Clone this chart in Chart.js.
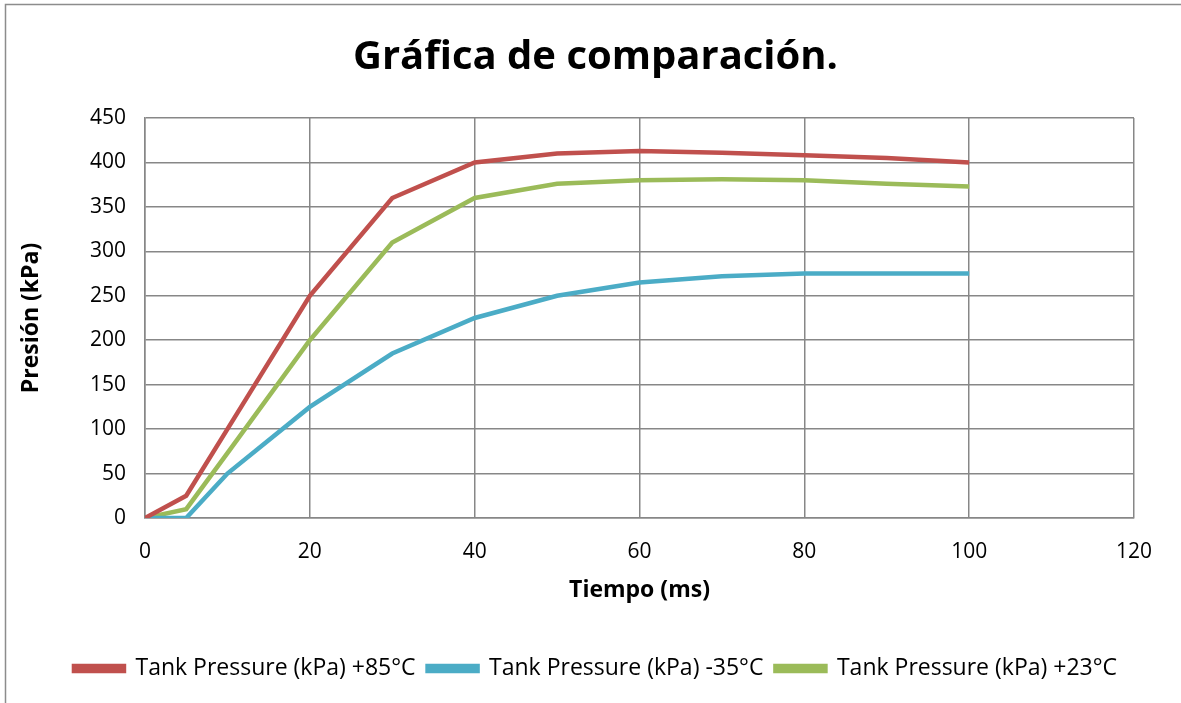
<!DOCTYPE html>
<html>
<head>
<meta charset="utf-8">
<script src="https://cdn.jsdelivr.net/npm/chart.js@4.4.1/dist/chart.umd.min.js"></script>
<style>
  html, body { margin: 0; padding: 0; background: #ffffff; }
  #wrap { width: 1181px; height: 703px; position: relative; }
</style>
</head>
<body>
<div id="wrap"><canvas id="c" width="1181" height="703"></canvas></div>
<script>
const timeMs = [0, 5, 10, 20, 30, 40, 50, 60, 70, 80, 90, 100];
const pressure85 = [0, 25, 100, 250, 360, 400, 410, 413, 411, 408, 405, 400];
const pressureMinus35 = [0, 0, 50, 125, 185, 225, 250, 265, 272, 275, 275, 275];
const pressure23 = [0, 10, 73, 200, 310, 360, 376, 380, 381, 380, 376, 373];
const seriesNames = ['Tank Pressure (kPa) +85°C', 'Tank Pressure (kPa) -35°C', 'Tank Pressure (kPa) +23°C'];
const chartTitle = 'Gráfica de comparación.';
const xTitle = 'Tiempo (ms)';
const yTitle = 'Presión (kPa)';

const FONT = "'Open Sans', 'DejaVu Sans', sans-serif";
const GRID = '#878787';

function pts(ys) { return timeMs.map((x, i) => ({ x: x, y: ys[i] })); }

const outerBorder = {
  id: 'outerBorder',
  beforeDraw(chart) {
    const ctx = chart.ctx;
    ctx.save();
    ctx.fillStyle = '#ffffff';
    ctx.fillRect(0, 0, chart.width, chart.height);
    ctx.strokeStyle = '#8c8c8c';
    ctx.lineWidth = 1.5;
    ctx.beginPath();
    ctx.moveTo(5.5, chart.height);
    ctx.lineTo(5.5, 4.5);
    ctx.lineTo(chart.width, 4.5);
    ctx.stroke();
    ctx.restore();
  }
};

const colors = ['#C0504D', '#4BACC6', '#9BBB59'];
const seriesData = [pressure85, pressureMinus35, pressure23];

new Chart(document.getElementById('c'), {
  type: 'line',
  data: {
    datasets: seriesData.map((d, i) => ({
      label: seriesNames[i],
      data: pts(d),
      borderColor: colors[i],
      backgroundColor: colors[i],
      borderWidth: 4.5,
      pointRadius: 0,
      tension: 0,
      fill: false
    }))
  },
  options: {
    responsive: false,
    animation: false,
    devicePixelRatio: 1,
    layout: { padding: { left: 15, right: 5, top: 0, bottom: 13 } },
    plugins: {
      title: {
        display: true,
        text: chartTitle,
        color: '#000000',
        font: { family: FONT, size: 40, weight: 'bold' },
        padding: { top: 34, bottom: 36 }
      },
      legend: {
        position: 'bottom',
        labels: {
          color: '#000000',
          font: { family: FONT, size: 23 },
          boxWidth: 50,
          boxHeight: 5,
          padding: 12
        }
      },
      tooltip: { enabled: false }
    },
    scales: {
      x: {
        type: 'linear',
        min: 0, max: 120,
        ticks: { stepSize: 20, color: '#000000', font: { family: FONT, size: 21 }, padding: 21, maxRotation: 0 },
        grid: { color: GRID, lineWidth: 1.5, drawTicks: false },
        border: { color: GRID, width: 1.5 },
        title: { display: true, text: xTitle, color: '#000000', font: { family: FONT, size: 23, weight: 'bold' }, padding: { top: 6, bottom: 41 } },
        afterFit(scale) { scale.height = 127; }
      },
      y: {
        min: 0, max: 450,
        ticks: { stepSize: 50, color: '#000000', font: { family: FONT, size: 21 }, padding: 19 },
        grid: { color: GRID, lineWidth: 1.5, drawTicks: false },
        border: { color: GRID, width: 1.5 },
        title: { display: true, text: yTitle, color: '#000000', font: { family: FONT, size: 23, weight: 'bold' }, padding: { top: 3, bottom: 0 } },
        afterFit(scale) { scale.width = 130; }
      },
      spacer: {
        type: 'linear',
        position: 'right',
        display: true,
        ticks: { display: false },
        grid: { display: false, drawTicks: false },
        border: { display: false },
        afterFit(scale) { scale.width = 42; }
      }
    }
  },
  plugins: [outerBorder]
});
</script>
</body>
</html>
